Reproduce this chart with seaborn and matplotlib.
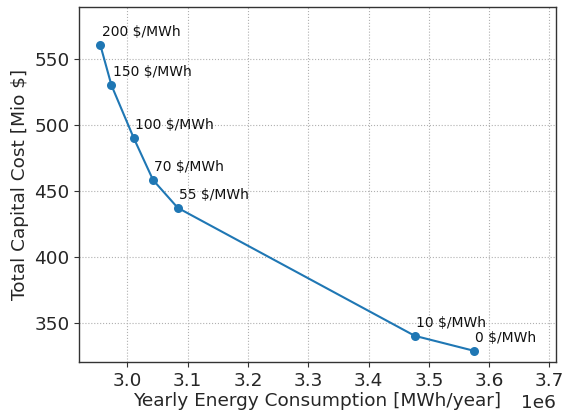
import matplotlib
matplotlib.use("Agg")
import matplotlib.pyplot as plt
import seaborn as sns
import pandas as pd

prices = ["200 $/MWh", "150 $/MWh", "100 $/MWh", "70 $/MWh", "55 $/MWh", "10 $/MWh", "0 $/MWh"]
energy = [2.955e6, 2.9735e6, 3.0105e6, 3.0425e6, 3.0834e6, 3.4765e6, 3.5748e6]
cost = [560.9, 530.3, 490.2, 458.4, 437.3, 340.1, 328.7]

df = pd.DataFrame({"energy": energy, "cost": cost, "label": prices})

sns.set_style("ticks")
plt.rcParams['font.family'] = ['DejaVu Sans']

fig = plt.figure(figsize=(5.66, 4.13), dpi=100)
ax = fig.add_axes([0.140, 0.1235, 0.842, 0.8585])

sns.lineplot(data=df, x="energy", y="cost", marker="o", markersize=6.5,
             markeredgewidth=0, color="#1f77b4", linewidth=1.5, sort=False, ax=ax)

for x, y, t in zip(energy, cost, prices):
    ax.annotate(t, (x, y), xytext=(1.0, 4.5), textcoords="offset points",
                fontsize=10, ha="left", va="bottom", color="#111111")

ax.set_xlim(2.92e6, 3.7106e6)
ax.set_ylim(320.2, 589.5)
ax.set_xticks([3.0e6, 3.1e6, 3.2e6, 3.3e6, 3.4e6, 3.5e6, 3.6e6, 3.7e6])
ax.set_yticks([350, 400, 450, 500, 550])
ax.grid(True, linestyle=":", color="#b0b0b0", linewidth=0.8)
ax.tick_params(labelsize=13.3, length=3.5, color="#333333")
ax.xaxis.get_offset_text().set_fontsize(13.3)
ax.set_xlabel("Yearly Energy Consumption [MWh/year]", fontsize=13.3, labelpad=2)
ax.set_ylabel("Total Capital Cost [Mio $]", fontsize=13.3, labelpad=4)
for s in ax.spines.values():
    s.set_color("#333333")
    s.set_linewidth(1.0)

fig.savefig("out.png", dpi=100)
